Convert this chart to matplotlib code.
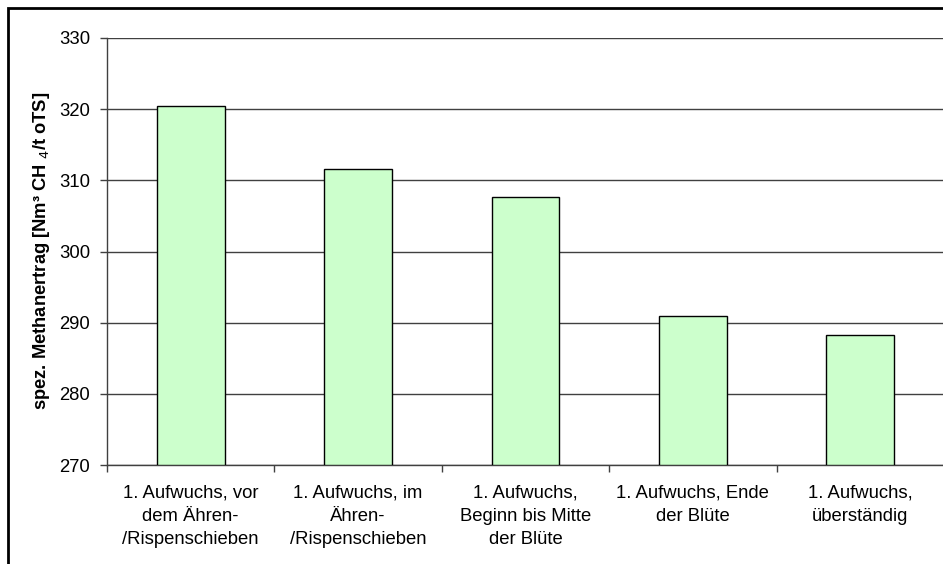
import matplotlib
matplotlib.use("Agg")
import matplotlib.pyplot as plt
from matplotlib.patches import Rectangle

plt.rcParams['font.family'] = ['Liberation Sans', 'DejaVu Sans']

categories = [
    "1. Aufwuchs, vor\ndem Ähren-\n/Rispenschieben",
    "1. Aufwuchs, im\nÄhren-\n/Rispenschieben",
    "1. Aufwuchs,\nBeginn bis Mitte\nder Blüte",
    "1. Aufwuchs, Ende\nder Blüte",
    "1. Aufwuchs,\nüberständig",
]
methane_yield = [320.4, 311.6, 307.7, 291.0, 288.2]
y_ticks = [270, 280, 290, 300, 310, 320, 330]
y_label = "spez. Methanertrag [Nm³ CH $_{4}$/t oTS]"

W, H = 943, 564
fig = plt.figure(figsize=(W / 100, H / 100), dpi=100)
fig.patch.set_facecolor("white")

# outer chart frame (right/bottom edges fall outside the canvas)
fig.patches.append(Rectangle((8 / W, -0.05), 1.1, 1 - 8 / H + 0.05,
                             transform=fig.transFigure, fill=False,
                             edgecolor="black", linewidth=2, zorder=0))

left, right, top, bottom = 107, 944, 38, 465
ax = fig.add_axes([left / W, (H - bottom) / H, (right - left) / W, (bottom - top) / H])

x = list(range(len(categories)))
ax.bar(x, [v - y_ticks[0] for v in methane_yield], bottom=y_ticks[0], width=0.405,
       color="#CCFFCC", edgecolor="black", linewidth=1.0, zorder=3)

ax.set_ylim(y_ticks[0], y_ticks[-1])
ax.set_xlim(-0.5, len(categories) - 0.5)
ax.set_yticks(y_ticks)
ax.yaxis.grid(True, color="#404040", linewidth=1.0, zorder=0)
ax.set_axisbelow(True)

ax.set_xticks(x)
ax.set_xticklabels(categories, fontsize=13.3, linespacing=1.5)
ax.tick_params(axis="x", which="major", length=0, pad=14)
ax.set_xticks([i - 0.5 for i in range(len(categories) + 1)], minor=True)
ax.tick_params(axis="x", which="minor", length=5, direction="out", color="#404040", width=1)
ax.tick_params(axis="y", length=5, direction="out", color="#404040", width=1,
               labelsize=13.3, pad=7)

for side in ("top", "right"):
    ax.spines[side].set_visible(False)
for side in ("left", "bottom"):
    ax.spines[side].set_color("#404040")
    ax.spines[side].set_linewidth(1.0)

fig.text(42 / W, 1 - 251 / H, y_label, rotation=90, ha="center", va="center",
         fontsize=13.2, fontweight="bold")

fig.savefig("out.png", dpi=100, facecolor="white")
